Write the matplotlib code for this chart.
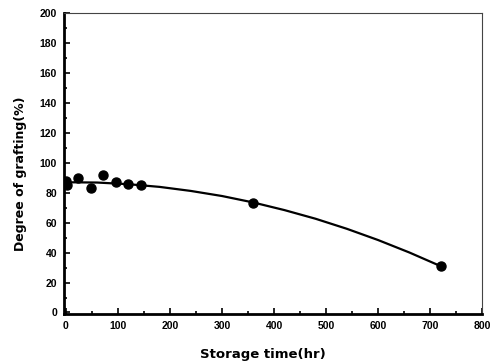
import matplotlib
matplotlib.use("Agg")
import matplotlib.pyplot as plt
from matplotlib.ticker import MultipleLocator

# measured points
time_hr = [0, 3, 24, 48, 72, 96, 120, 144, 360, 720]
grafting = [88, 85, 90, 83, 92, 87, 86, 85, 73, 31]

# fitted trend line
fit_time = [0, 60, 120, 180, 240, 300, 360, 420, 480, 540, 600, 660, 720]
fit_grafting = [87, 86.8, 85.7, 83.9, 81.2, 77.8, 73.5, 68.4, 62.6, 55.9, 48.4, 40.1, 31]

plt.rcParams['font.family'] = ['Liberation Sans', 'DejaVu Sans']

fig = plt.figure(figsize=(4.95, 3.63), dpi=100)
ax = fig.add_axes([0.129, 0.135, 0.845, 0.829])

ax.plot(fit_time, fit_grafting, color='black', lw=1.6, zorder=2)
ax.plot(time_hr, grafting, 'o', color='black', ms=6.5, zorder=3)

ax.set_xlim(-4, 800)
ax.set_ylim(-1, 200)
ax.xaxis.set_major_locator(MultipleLocator(100))
ax.xaxis.set_minor_locator(MultipleLocator(50))
ax.yaxis.set_major_locator(MultipleLocator(20))
ax.yaxis.set_minor_locator(MultipleLocator(10))
ax.tick_params(which='both', direction='in', top=False, right=False,
               labelsize=7.5, width=1.2, pad=5)
ax.tick_params(which='major', length=4)
ax.tick_params(which='minor', length=2.5)
for lab in ax.get_xticklabels() + ax.get_yticklabels():
    lab.set_fontweight('bold')

ax.spines['left'].set_linewidth(2)
ax.spines['bottom'].set_linewidth(2)
ax.spines['top'].set_linewidth(0.8)
ax.spines['right'].set_linewidth(0.8)
ax.spines['top'].set_color('#444444')
ax.spines['right'].set_color('#444444')

ax.set_xlabel('Storage time(hr)', fontsize=9.5, fontweight='bold',
              family='DejaVu Sans')
ax.set_ylabel('Degree of grafting(%)', fontsize=9, fontweight='bold',
              family='DejaVu Sans')
ax.xaxis.set_label_coords(0.476, -0.112)
ax.yaxis.set_label_coords(-0.088, 0.467)

fig.savefig('out.png', dpi=100)
